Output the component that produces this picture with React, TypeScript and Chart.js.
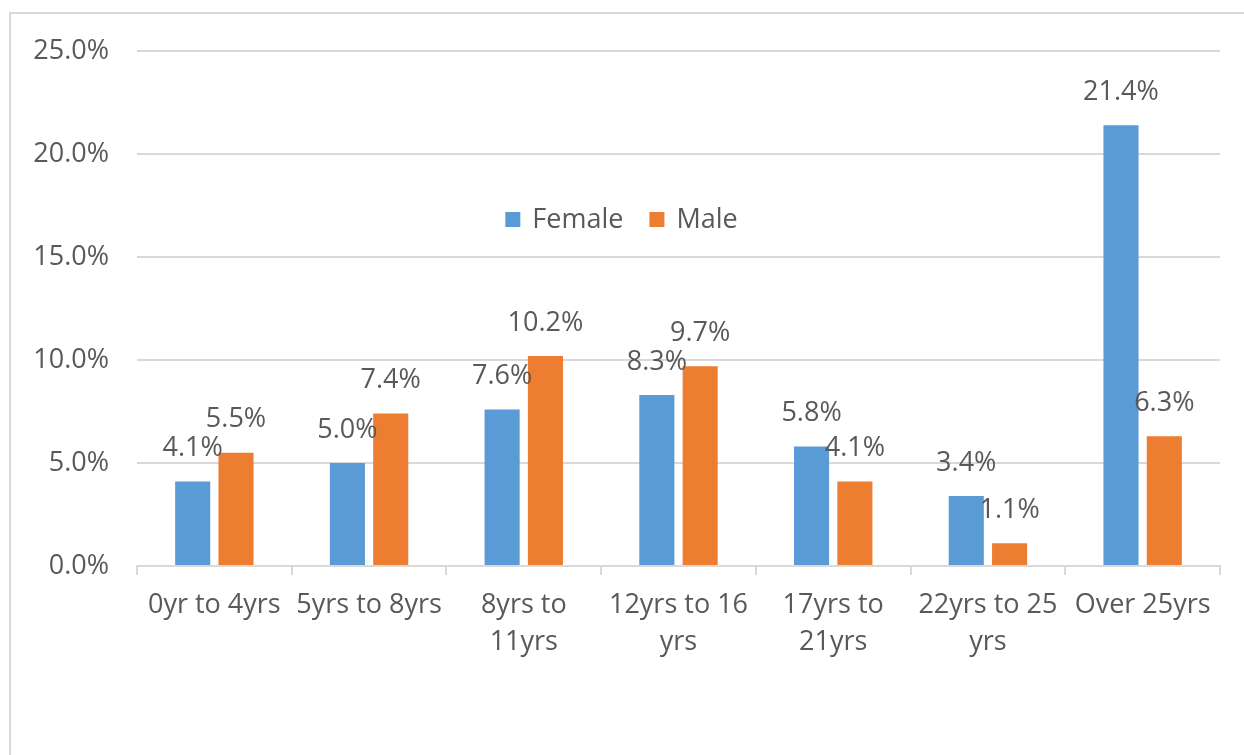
import React, { useEffect, useRef } from "react";
import { Chart, registerables } from "chart.js";

Chart.register(...registerables);

const categories: (string | string[])[] = [
  "0yr to 4yrs",
  "5yrs to 8yrs",
  ["8yrs to", "11yrs"],
  ["12yrs to 16", "yrs"],
  ["17yrs to", "21yrs"],
  ["22yrs to 25", "yrs"],
  "Over 25yrs",
];
const femaleValues = [4.1, 5.0, 7.6, 8.3, 5.8, 3.4, 21.4];
const maleValues = [5.5, 7.4, 10.2, 9.7, 4.1, 1.1, 6.3];
const yTicks = [0, 5, 10, 15, 20, 25];

const FONT = "'Open Sans', 'Liberation Sans', sans-serif";
const TEXT = "#595959";
const GRID = "#d9d9d9";
const FS = 27;

const labelPlugin = {
  id: "valueLabels",
  afterDatasetsDraw(chart: any) {
    const ctx = chart.ctx;
    ctx.save();
    ctx.font = `${FS}px ${FONT}`;
    ctx.fillStyle = TEXT;
    ctx.textAlign = "center";
    ctx.textBaseline = "middle";
    chart.data.datasets.forEach((ds: any, di: number) => {
      const meta = chart.getDatasetMeta(di);
      meta.data.forEach((bar: any, i: number) => {
        ctx.fillText(ds.data[i].toFixed(1) + "%", bar.x, bar.y - 33);
      });
    });
    ctx.restore();
  },
};

const legendPlugin = {
  id: "innerLegend",
  afterDraw(chart: any) {
    const ctx = chart.ctx;
    ctx.save();
    ctx.font = `${FS}px ${FONT}`;
    ctx.textBaseline = "middle";
    const box = 15;
    const gapText = 12;
    const gapItem = 26;
    const items = chart.data.datasets.map((d: any) => ({
      label: d.label,
      color: d.backgroundColor,
      w: ctx.measureText(d.label).width,
    }));
    let total = 0;
    items.forEach((it: any, i: number) => {
      total += box + gapText + it.w + (i < items.length - 1 ? gapItem : 0);
    });
    let x = 621.5 - total / 2;
    const y = 219.5;
    items.forEach((it: any) => {
      ctx.fillStyle = it.color;
      ctx.fillRect(x, y - box / 2, box, box);
      x += box + gapText;
      ctx.fillStyle = TEXT;
      ctx.textAlign = "left";
      ctx.fillText(it.label, x, y + 1);
      x += it.w + gapItem;
    });
    ctx.restore();
  },
};

export default function App() {
  const ref = useRef<HTMLCanvasElement>(null);
  useEffect(() => {
    if (!ref.current) return;
    const chart = new Chart(ref.current, {
      type: "bar",
      data: {
        labels: categories,
        datasets: [
          {
            label: "Female",
            data: femaleValues,
            backgroundColor: "#5B9BD5",
            categoryPercentage: 0.56,
            barPercentage: 0.81,
          },
          {
            label: "Male",
            data: maleValues,
            backgroundColor: "#ED7D31",
            categoryPercentage: 0.56,
            barPercentage: 0.81,
          },
        ],
      },
      options: {
        responsive: false,
        animation: false,
        layout: { padding: { top: 51, right: 24, left: 0, bottom: 0 } },
        plugins: {
          legend: { display: false },
          tooltip: { enabled: false },
        },
        scales: {
          x: {
            grid: {
              drawOnChartArea: false,
              drawTicks: true,
              tickLength: 9,
              color: GRID,
              lineWidth: 2,
            },
            border: { color: GRID, width: 2 },
            ticks: {
              color: TEXT,
              font: { family: FONT, size: FS, lineHeight: 1.4 },
              maxRotation: 0,
              autoSkip: false,
              padding: 11,
            },
            afterFit(scale: any) {
              scale.height = 189;
            },
          },
          y: {
            min: 0,
            max: 25,
            afterBuildTicks(scale: any) {
              scale.ticks = yTicks.map((v) => ({ value: v }));
            },
            grid: { drawTicks: false, color: GRID, lineWidth: 2 },
            border: { display: false },
            ticks: {
              color: TEXT,
              font: { family: FONT, size: FS },
              padding: 28,
              callback: (v: any) => Number(v).toFixed(1) + "%",
            },
            afterFit(scale: any) {
              scale.width = 137;
            },
          },
        },
      },
      plugins: [labelPlugin, legendPlugin],
    });
    return () => chart.destroy();
  }, []);
  return (
    <div style={{ position: "fixed", left: 0, top: 0, width: 1244, height: 755, background: "#fff" }}>
      <div
        style={{
          position: "absolute",
          left: 9,
          top: 12,
          width: 1300,
          height: 800,
          borderLeft: "2px solid #d9d9d9",
          borderTop: "2px solid #d9d9d9",
        }}
      />
      <canvas ref={ref} width={1244} height={755} style={{ position: "absolute", left: 0, top: 0 }} />
    </div>
  );
}
